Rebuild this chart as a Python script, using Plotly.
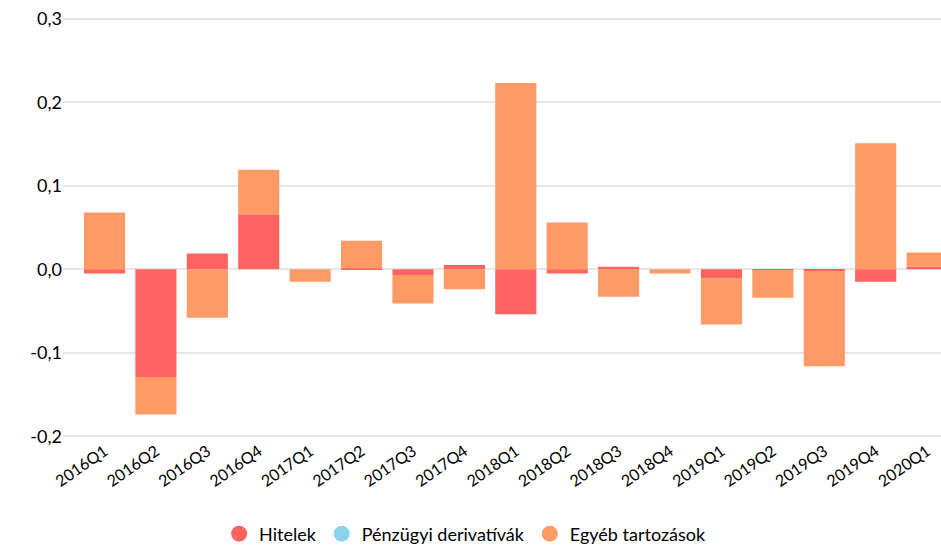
import plotly.graph_objects as go

quarters = ['2016Q1', '2016Q2', '2016Q3', '2016Q4', '2017Q1', '2017Q2', '2017Q3', '2017Q4',
            '2018Q1', '2018Q2', '2018Q3', '2018Q4', '2019Q1', '2019Q2', '2019Q3', '2019Q4', '2020Q1']
hitelek = [-0.005, -0.129, 0.019, 0.066, 0.0, 0.001, -0.007, 0.005,
           -0.054, -0.005, 0.003, 0.0, -0.011, -0.001, -0.002, -0.015, 0.003]
derivativak = [0.0] * 17
egyeb = [0.068, -0.045, -0.058, 0.053, -0.015, 0.033, -0.034, -0.024,
         0.223, 0.056, -0.033, -0.005, -0.055, -0.033, -0.114, 0.151, 0.017]
y_ticks = [-0.2, -0.1, 0.0, 0.1, 0.2, 0.3]
y_labels = ['-0,2', '-0,1', '0,0', '0,1', '0,2', '0,3']

series = [
    ('Hitelek', hitelek, '#ff6361'),
    ('Pénzügyi derivatívák', derivativak, '#8ad4eb'),
    ('Egyéb tartozások', egyeb, '#ff9966'),
]

fig = go.Figure()
for name, vals, col in series:
    fig.add_trace(go.Bar(x=quarters, y=vals, name=name, marker_color=col,
                         marker_line_width=0, showlegend=False))
# circle markers for the legend
for name, vals, col in series:
    fig.add_trace(go.Scatter(x=[None], y=[None], mode='markers', name=name,
                             marker=dict(color=col, size=20, symbol='circle')))

fig.update_layout(
    barmode='relative',
    bargap=0.2,
    width=941, height=546,
    margin=dict(l=63, r=0, t=17, b=108, autoexpand=False),
    plot_bgcolor='white', paper_bgcolor='white',
    font=dict(family='Lato, Open Sans, sans-serif', size=17, color='#000'),
    legend=dict(orientation='h', x=0.458, xanchor='center', y=-0.228, yanchor='middle',
                font=dict(size=18), itemsizing='trace', itemwidth=30, tracegroupgap=0),
    xaxis=dict(range=[-0.807, 16.27], tickangle=-35, showgrid=False, ticks='',
               tickfont=dict(size=16), automargin=False),
    yaxis=dict(range=[-0.202, 0.302], tickvals=y_ticks, ticktext=y_labels,
               showgrid=True, gridcolor='#e6e6e6', gridwidth=2, automargin=False,
               zeroline=False, ticks='', tickfont=dict(size=18)),
)

# drop the default 8px body margin so the chart fills the window
fig.write_html('out.html', config={'displayModeBar': False},
               post_script="document.body.style.margin='0';")
